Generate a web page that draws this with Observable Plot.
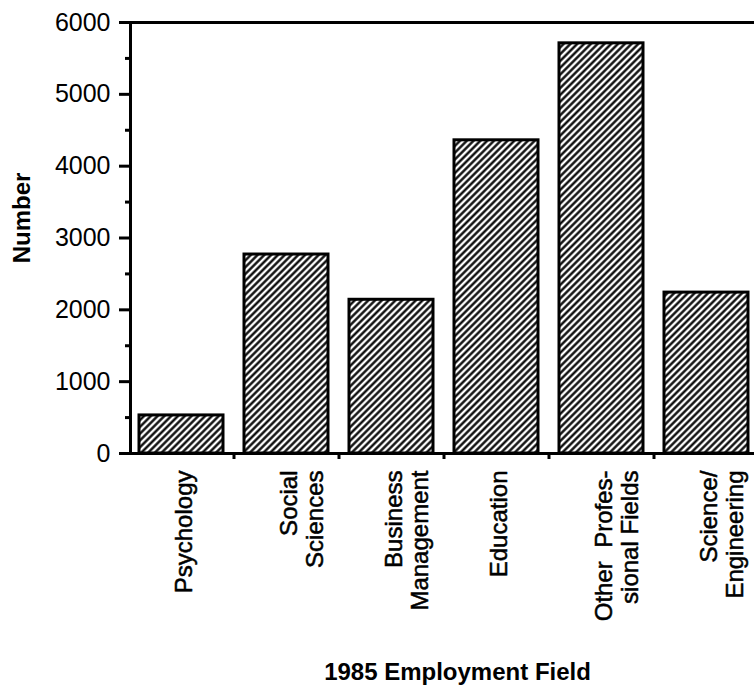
<!DOCTYPE html>
<html><head><meta charset="utf-8">
<script src="https://cdn.jsdelivr.net/npm/d3@7"></script>
<script src="https://cdn.jsdelivr.net/npm/@observablehq/plot@0.6"></script>
<style>html,body{margin:0;padding:0;background:#fff;overflow:hidden}</style>
</head><body><div id="chart"></div>
<script>
const categories = ["Psychology", "Social Sciences", "Business Management", "Education", "Other Professional Fields", "Science/Engineering"];
const tickLabels = ["Psychology", "Social\nSciences", "Business\nManagement", "Education", "Other\u00a0\u00a0Profes-\nsional Fields", "Science/\nEngineering"];
const values = [530, 2770, 2140, 4360, 5710, 2240];
const yTicks = [0, 1000, 2000, 3000, 4000, 5000, 6000];
const yMinorTicks = [500, 1500, 2500, 3500, 4500, 5500];
const xTitle = "1985 Employment Field";
const yTitle = "Number";

const data = categories.map((c, i) => ({field: c, label: tickLabels[i], value: values[i]}));
const font = '"Liberation Sans", Arial, Helvetica, sans-serif';

const plot = Plot.plot({
  width: 754, height: 693,
  marginLeft: 130, marginRight: -10, marginTop: 22, marginBottom: 240,
  style: {fontFamily: font, background: "#fff", color: "#000", overflow: "hidden"},
  x: {domain: categories, range: [128, 758], paddingInner: 0.2, paddingOuter: 0.1},
  y: {domain: [0, 6000]},
  marks: [
    Plot.barY(data, {x: "field", y: "value", fill: "url(#hatch)", stroke: "#000", strokeWidth: 3}),
    Plot.frame({stroke: "#000", strokeWidth: 3}),
    Plot.axisY({ticks: yTicks, tickSize: 11, tickPadding: 9, strokeWidth: 3, fontSize: 25, label: null, tickFormat: d => String(d)}),
    Plot.axisY({ticks: yMinorTicks, tickSize: 5, strokeWidth: 3, tickFormat: () => "", label: null}),
    Plot.axisX({ticks: categories.slice(0, 5), tickSize: 6, strokeWidth: 3, dx: 52.5, tickFormat: () => "", label: null}),
    Plot.text(data, {x: "field", y: 0, text: "label", rotate: -90, textAnchor: "end", lineAnchor: "top", lineHeight: 1.12, fontSize: 24, dx: -9, dy: 17, fill: "#000", stroke: "#000", strokeWidth: 0.5}),
    Plot.text([yTitle], {frameAnchor: "left", text: d => d, rotate: -90, textAnchor: "middle", lineAnchor: "middle", dx: -108, dy: -20, fontSize: 24, fontWeight: "bold", fill: "#000"}),
    Plot.text([xTitle], {frameAnchor: "bottom", text: d => d, textAnchor: "middle", lineAnchor: "middle", dx: 10, dy: 219, fontSize: 24, fontWeight: "bold", fill: "#000"})
  ]
});

const svg = d3.select(plot);
const defs = svg.insert("defs", ":first-child");
const s = 4.8;
const pat = defs.append("pattern").attr("id", "hatch").attr("patternUnits", "userSpaceOnUse")
  .attr("width", s).attr("height", s).attr("patternTransform", "rotate(45)");
pat.append("rect").attr("width", s).attr("height", s).attr("fill", "#fff");
pat.append("line").attr("x1", s / 2).attr("x2", s / 2).attr("y1", 0).attr("y2", s)
  .attr("stroke", "#000").attr("stroke-width", 2.3);

document.getElementById("chart").appendChild(plot);
</script>
</body></html>
